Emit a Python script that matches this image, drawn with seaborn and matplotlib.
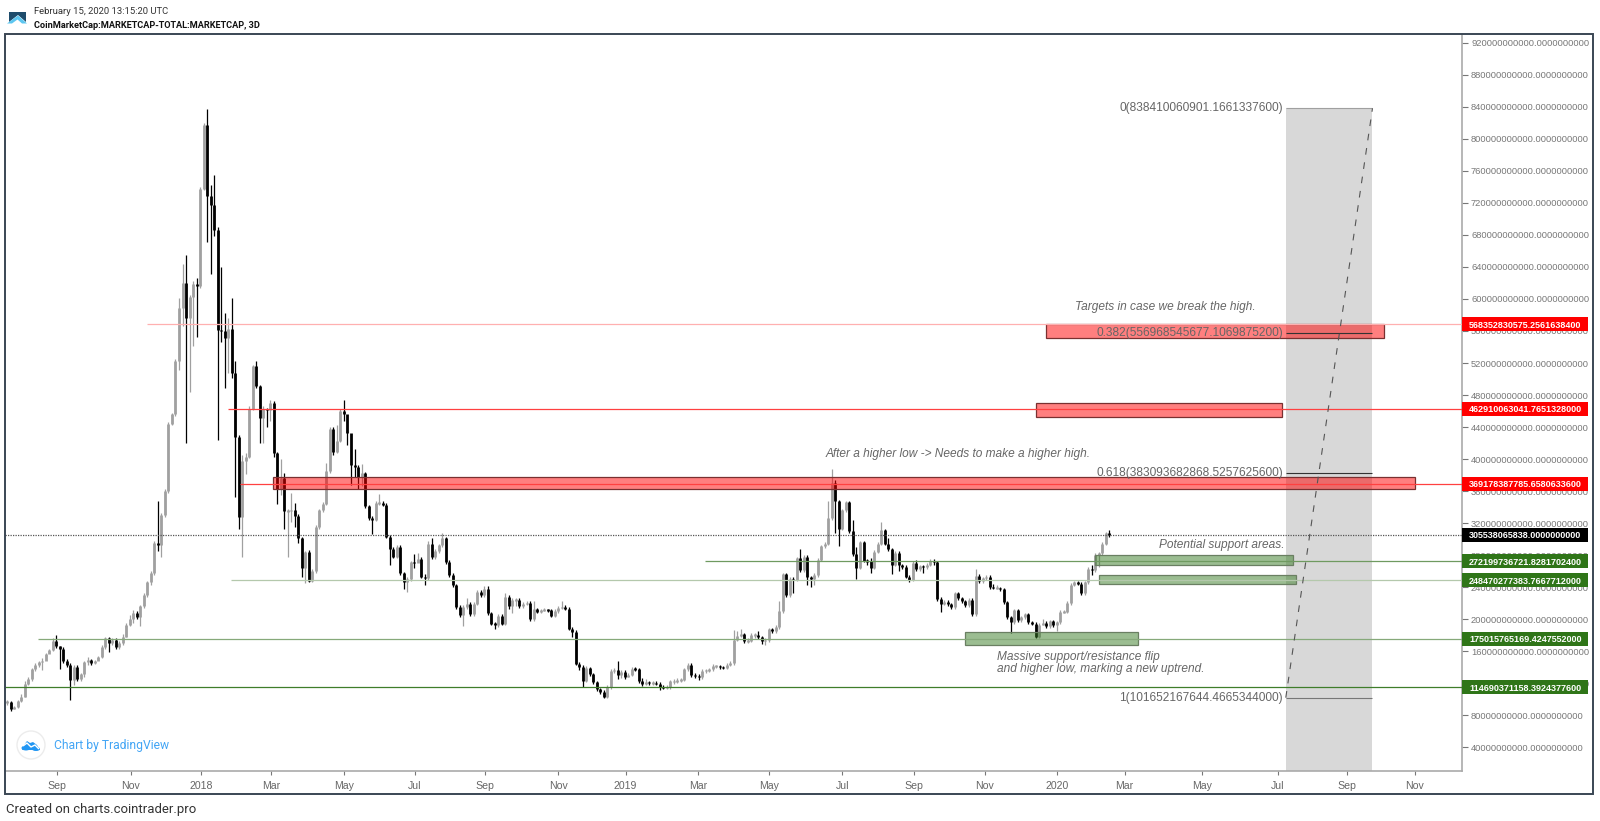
import matplotlib
matplotlib.use("Agg")
import matplotlib.pyplot as plt
import matplotlib.transforms as mtrans
from matplotlib.patches import Rectangle, Polygon, Circle, Ellipse
import numpy as np
import pandas as pd
import seaborn as sns

# ---- candle data, billions USD, 3-day bars ----
closes = [96,88,90,98,103,119,125,137,143,146,
 148,156,161,173,166,163,148,143,124,140,
 125,131,146,149,145,147,152,165,176,170,
 174,165,170,178,193,200,208,202,216,230,
 246,257,295,292,330,360,444,456,522,589,
 620,576,603,619,616,738,817,729,718,686,
 561,560,551,562,507,427,328,397,403,463,
 516,491,451,463,461,470,407,363,376,335,
 335,336,329,301,264,284,248,260,315,336,
 344,385,437,409,423,460,456,433,392,390,
 377,382,341,326,324,345,345,343,303,288,
 278,290,257,246,250,271,270,275,253,251,
 294,277,285,292,301,271.5,255,242,215,205,
 215,219,206,219,234,230,237,207,194,193,
 204,194,228,216,224,224,216,219,220,200,
 212,209,211,212,211,204,210,214,215,213,
 188,184,144,140,123,139,131,121,112,109,
 103,115,135,136.6,130,134,128,130,138,137,
 122.5,119,121,120,120,119,115,114,115,122,
 122,123,124,137,142,129.5,129,127,135,136,
 137,141,141,140,139,143,145,173.4,179,181,
 172,173,180,180,177,172,174,187,185,190,
 210,256,230,250,249,276,261,278,252,250,
 255,274,291,294,326,370,347,313,336,346,
 310,281,264,296,273,272,264,284,294,311,
 294,287,268,283,267,265,253,249,270,262,
 266,265,268,273,271,225.5,219,221,219,215,
 232,226,222,217,224,206,254,247,251,253,
 240,239,239,237,221,202.6,196,211,198.4,202,
 206,196,194,177.5,193,195,191,197,192,196,
 209,209,220,243,246,244,232,246,263,261,
 280,282,294,307,305.5]
highs = [99,97,91,99,106,122,128,139,145,148,
 151,158,163,176,180,166,165,150,145,142,
 142,133,148,152,150,149,154,167,178,177,
 176,176,172,181,195,205,211,210,218,232,
 248,260,297,347,332,362,446,458,525,601,
 644,655,605,622,626,740,820,838,742,755,
 690,640,582,576,601,523,430,405,408,466,
 518,522,492,466,464,474,472,409,400,382,
 337,357,345,331,303,285,286,262,317,338,
 346,395,440,440,442,462,474,436,395,413,
 392,394,384,343,329,348,356,347,345,305,
 290,292,292,259,252,273,281,282,277,256,
 297,301,287,294,307,303,274,257,244,217,
 217,226,221,221,236,236,241,241,209,196,
 206,206,232,230,226,226,226,221,222,222,
 222,214,213,214,213,212,212,216,222,217,
 215,190,186,146,142,141,140,133,123,114,
 111,117,137,139,147,136,136,132,140,140,
 139,126,125,123,122,122,121,117,117,124,
 125,126,126,139,145,145,132,131,137,138,
 139,144,143,143,141,145,147,186,185,187,
 182,176,182,182,185,179,176,189,189,192,
 223,258,258,252,252,278,287,280,280,254,
 257,276,293,296,348,387,374,349,338,348,
 348,324,290,298,298,275,276,286,296,321,
 313,301,289,285,285,269,267,255,272,274,
 268,268,270,275,275,273,228,224,224,220,
 234,234,228,224,226,226,263,256,253,255,
 255,244,242,240,239,223,204,213,213,204,
 208,208,198,196,195,200,198,199,199,198,
 211,211,222,245,248,248,246,248,265,268,
 282,284,296,309,311]
lows = [92,85,87,89,96,102,117,123,135,140,
 136,154,159,160,164,137,145,140,99,118,
 123,122,128,142,143,144,150,151,163,159,
 168,163,163,167,177,191,195,200,191,214,
 228,243,255,285,278,328,358,442,454,511,
 566,420,484,541,552,614,736,671,631,679,
 424,546,489,508,501,353,313,278,381,401,
 461,489,420,420,440,448,403,344,355,312,
 277,321,315,295,253,245,246,246,258,313,
 334,342,383,405,407,421,447,417,367,378,
 363,366,339,324,306,322,343,341,301,267,
 276,276,255,238,234,248,264,272,251,243,
 249,275,275,283,290,269,253,240,213,203,
 191,213,204,204,217,228,228,205,192,188,
 190,192,192,213,207,216,214,214,217,197,
 198,207,208,210,209,202,203,208,212,211,
 186,177,142,136,115,121,129,119,110,106,
 101,101,113,133,125,126,125,127,129,135,
 120,116,117,118,118,117,111,112,112,112,
 119,120,121,122,135,127,126,124,125,133,
 134,135,139,138,137,137,141,143,172,177,
 170,170,171,176,175,169,167,171,183,183,
 188,208,228,228,233,247,259,259,242,240,
 243,253,272,289,292,324,307,291,311,334,
 308,279,250,262,271,268,258,262,282,292,
 292,285,256,266,260,263,251,246,247,260,
 260,258,263,266,268,223,209,217,216,213,
 213,224,220,215,215,204,204,245,245,249,
 238,237,237,235,219,200,183,194,196,196,
 200,194,192,176,176,192,189,189,190,185,
 194,207,207,218,241,242,230,230,244,255,
 259,265,280,292,302]
first_open = 96

x_ticks = [14.2,35.3,55.3,75.2,96,116.2,136.2,157,176.2,196.9,217.1,237.9,258.4,278.6,299.1,318.4,340.5,362.1,381.8,401.1]
x_labels = ["Sep","Nov","2018","Mar","May","Jul","Sep","Nov","2019","Mar","May","Jul","Sep","Nov","2020","Mar","May","Jul","Sep","Nov"]
y_ticks = list(range(40, 921, 40))

level_values = [568.352830575, 462.910063041, 369.178387785, 305.538065838, 272.199736721, 248.470277383, 175.015765169, 114.690371158]
level_labels = ["568352830575.2561638400","462910063041.7651328000","369178387785.6580633600","305538065838.0000000000",
                "272199736721.8281702400","248470277383.7667712000","175015765169.4247552000","114690371158.3924377600"]
level_starts = [39.9, 63, 66.4, -0.6, 198.9, 63.8, 8.8, -0.6]
level_colors = ["#ffb0b0","#ff4040","#ff4040","#555555","#6f9a60","#b4c8ac","#86a97a","#3f7d2a"]
label_colors = ["#ff0000","#ff0000","#ff0000","#000000","#2f7518","#2f7518","#2f7518","#2f7518"]

red_zones = [(296.0,392.3,551,569),(293.2,363.2,453,469.6),(75.8,401.1,363,377)]
green_zones = [(310.0,366.4,268,280),(311.1,367.2,243.4,254.6),(272.9,322.1,168,184)]

fib_levels = [838.410060901, 556.968545677, 383.093682868, 101.652167644]
fib_labels = ["0(838410060901.1661337600)","0.382(556968545677.1069875200)","0.618(383093682868.5257625600)","1(101652167644.4665344000)"]
fib_colors = ["#a0a0a0","#333333","#333333","#777777"]
fib_span = (364.3, 389.0)

notes = ["Targets in case we break the high.","After a higher low -> Needs to make a higher high.",
         "Potential support areas.","Massive support/resistance flip","and higher low, marking a new uptrend."]
note_x = [304.3,233.3,328.2,282,282]
note_y = [590,406,292.5,152.5,137.5]

# ---- build tables ----
opens = [first_open] + closes[:-1]
bars = np.arange(len(closes))
wick_rows, body_rows = [], []
for i, (o, h, l, c) in zip(bars, zip(opens, highs, lows, closes)):
    d = "up" if c >= o else "down"
    wick_rows += [(i, l, d), (i, h, d)]
    lo, hi = min(o, c), max(o, c)
    if hi - lo < 2:
        mid = (hi + lo) / 2
        lo, hi = mid - 1, mid + 1
    body_rows += [(i, lo, d), (i, hi, d)]
wicks = pd.DataFrame(wick_rows, columns=["bar", "value", "dir"])
bodies = pd.DataFrame(body_rows, columns=["bar", "value", "dir"])

sns.set_theme(style="white")
plt.rcParams["font.family"] = ["Liberation Sans", "DejaVu Sans"]
plt.rcParams["lines.solid_capstyle"] = "butt"

W, H = 1600, 821
fig = plt.figure(figsize=(W / 100, H / 100), dpi=100, facecolor="white")
ax = fig.add_axes([5 / W, 1 - 771 / H, 1457 / W, 736 / H])
ax.set_xlim(-0.57, 414.5)
ax.set_ylim(10, 930)
ax.set_facecolor("white")

palette = {"up": "#a0a0a0", "down": "#000000"}
ax.add_patch(Rectangle((fib_span[0], 10), fib_span[1] - fib_span[0], fib_levels[0] - 10,
                       facecolor="#d8d8d8", edgecolor="none", zorder=1))
sns.lineplot(data=wicks, x="bar", y="value", units="bar", hue="dir", palette=palette, estimator=None,
             sort=False, legend=False, linewidth=0.9, ax=ax, zorder=3)
sns.lineplot(data=bodies, x="bar", y="value", units="bar", hue="dir", palette=palette, estimator=None,
             sort=False, legend=False, linewidth=2.0, ax=ax, zorder=3.1)

for x0, x1, y0, y1 in red_zones:
    ax.add_patch(Rectangle((x0, y0), x1 - x0, y1 - y0, facecolor=(1, 0, 0, 0.5),
                           edgecolor="#7a3030", linewidth=0.9, zorder=4))
for x0, x1, y0, y1 in green_zones:
    ax.add_patch(Rectangle((x0, y0), x1 - x0, y1 - y0, facecolor=(0.22, 0.49, 0.14, 0.5),
                           edgecolor="#6a7f62", linewidth=0.9, zorder=4))

for v, s, col in zip(level_values, level_starts, level_colors):
    ls = (0, (1, 1)) if col == "#555555" else "-"
    ax.plot([s, ax.get_xlim()[1]], [v, v], color=col, lw=0.9, ls=ls, zorder=4.5)

for v, col, lab in zip(fib_levels, fib_colors, fib_labels):
    ax.plot(fib_span, [v, v], color=col, lw=0.8, zorder=4.6)
    ax.text(fib_span[0] - 0.8, v, lab, ha="right", va="center", fontsize=8.55, color="#666666", zorder=4.7)
ax.plot(fib_span, [fib_levels[3], fib_levels[0]], color="#555555", lw=0.8, ls=(0, (6, 7)), zorder=4.6)

for t, x, y in zip(notes, note_x, note_y):
    ax.text(x, y, t, ha="left", va="center", fontsize=8.55, style="italic", color="#666666", zorder=5)

# axes
for s in ["top", "left"]:
    ax.spines[s].set_visible(False)
for s in ["right", "bottom"]:
    ax.spines[s].set_color("#aaaaaa")
    ax.spines[s].set_linewidth(1.2)
ax.set_xlabel("")
ax.set_ylabel("")
ax.yaxis.tick_right()
ax.set_yticks(y_ticks)
ax.set_yticklabels([f"{v}000000000.0000000000" for v in y_ticks])
ax.set_xticks(x_ticks)
ax.set_xticklabels(x_labels)
ax.tick_params(axis="y", length=4, width=0.8, color="#777777", labelcolor="#777777", labelsize=6.75, pad=2.5, right=True)
ax.tick_params(axis="x", length=3, width=0.8, color="#777777", labelcolor="#666666", labelsize=7.6, pad=4.5, bottom=True)

# price labels
trans = mtrans.blended_transform_factory(ax.transAxes, ax.transData)
box_w = 126 / 1457
box_h = 17.5
for v, lab, col in zip(level_values, level_labels, label_colors):
    ax.add_patch(Rectangle((1.0, v - box_h / 2), box_w, box_h, transform=trans, facecolor=col,
                           edgecolor="none", clip_on=False, zorder=6))
    ax.text(1.0 + 7 / 1457, v, lab, transform=trans, ha="left", va="center_baseline", color="white",
            fontsize=6.45, fontweight="bold", clip_on=False, zorder=7)

# overlay in pixel units: frame, header, footer, logos
ov = fig.add_axes([0, 0, 1, 1], zorder=10)
ov.set_xlim(0, W)
ov.set_ylim(H, 0)
ov.axis("off")
ov.add_patch(Rectangle((5, 34), 1588, 760, facecolor="none", edgecolor="#3a4654", linewidth=1.4))
ov.add_patch(Polygon([(9, 12), (26, 12), (26, 22), (18, 15), (9, 22)], facecolor="#1e4c6c", edgecolor="none"))
ov.add_patch(Polygon([(7, 23.5), (18, 15.5), (27, 23.5), (22, 23.5), (17.5, 19.5), (12, 23.5)], facecolor="#5cc6f0", edgecolor="none"))
ov.text(34, 11, "February 15, 2020 13:15:20 UTC", family="Roboto", fontsize=6.8, color="#333333", va="center", ha="left")
ov.text(34, 25, "CoinMarketCap:MARKETCAP-TOTAL:MARKETCAP, 3D", family="Roboto", fontsize=6.6, fontweight="bold", color="#111111", va="center", ha="left")
ov.text(6, 809, "Created on charts.cointrader.pro", family="Roboto", fontsize=9.45, color="#333333", va="center", ha="left")
ov.add_patch(Circle((31, 745), 14, facecolor="white", edgecolor="#ececec", linewidth=1))
ov.add_patch(Polygon([(22, 750), (24, 745), (27, 741), (30, 743), (33, 742), (37, 745), (40, 750)], facecolor="#2196f3", edgecolor="none"))
ov.add_patch(Ellipse((26, 748), 9, 5, facecolor="#2196f3", edgecolor="none"))
ov.add_patch(Ellipse((36, 749), 8, 4, facecolor="#2196f3", edgecolor="none"))
ov.plot([23, 27, 31, 35, 39], [746, 743, 747, 745, 749], color="white", lw=1)
ov.text(54, 745, "Chart by TradingView", family="Roboto", fontsize=8.7, color="#42a5f5", va="center", ha="left")

fig.savefig("out.png", dpi=100, facecolor="white")
